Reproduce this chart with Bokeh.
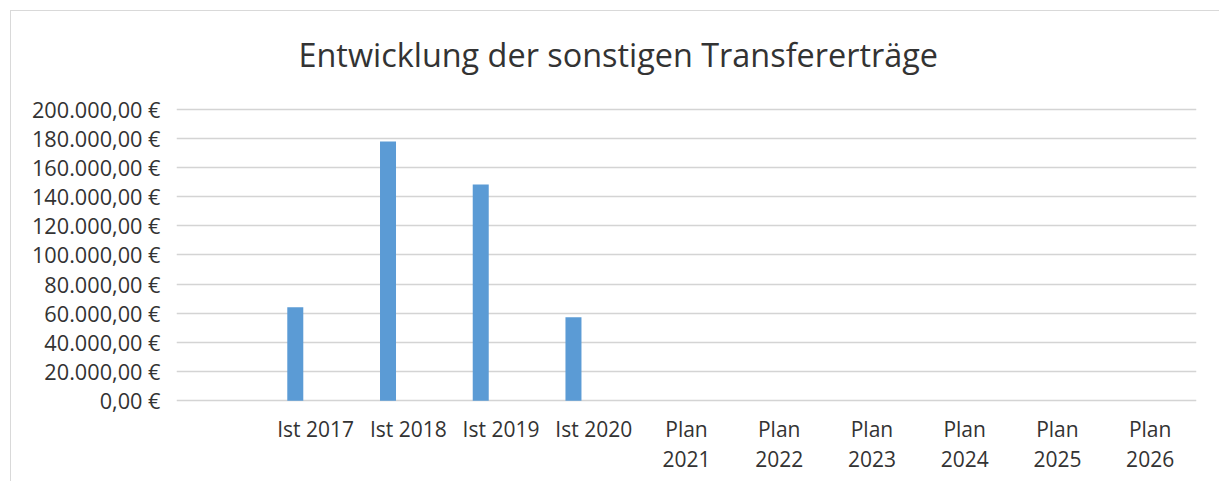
from bokeh.plotting import figure
from bokeh.models import ColumnDataSource, FactorRange, FixedTicker, Title
from bokeh.core.properties import value
from bokeh.transform import dodge
from bokeh.embed import file_html
from bokeh.resources import INLINE

# ---- data ----
title_text = "Entwicklung der sonstigen Transfererträge"
categories = ["", "Ist 2017", "Ist 2018", "Ist 2019", "Ist 2020",
              "Plan 2021", "Plan 2022", "Plan 2023", "Plan 2024", "Plan 2025", "Plan 2026"]
values = [0, 64200, 177900, 148400, 57300, 0, 0, 0, 0, 0, 0]
y_ticks = [0, 20000, 40000, 60000, 80000, 100000, 120000, 140000, 160000, 180000, 200000]
y_tick_labels = ["0,00 €", "20.000,00 €", "40.000,00 €", "60.000,00 €", "80.000,00 €",
                 "100.000,00 €", "120.000,00 €", "140.000,00 €", "160.000,00 €",
                 "180.000,00 €", "200.000,00 €"]

# category labels as Excel wraps them ("Plan 2021" on two lines)
x_labels = [c.replace("Plan ", "Plan\n") for c in categories]

FONT = "Open Sans"
TXT = "#333333"
GRID = "#d4d4d4"

# layout (page pixels)
CANVAS_TOP = 11.5
CANVAS_H = 471
FRAME_TOP = 97.0          # page y of frame top (below the title panel)
ZERO_Y = 400.7            # page y of value 0
TOP_Y = 108.7             # page y of 200000
units_per_px = (y_ticks[-1] - y_ticks[0]) / (ZERO_Y - TOP_Y)
y_end = y_ticks[-1] + (TOP_Y - FRAME_TOP) * units_per_px
y_start = -(CANVAS_TOP + CANVAS_H - ZERO_Y) * units_per_px

src = ColumnDataSource(dict(cat=categories, val=values, lab=x_labels))

p = figure(width=1209, height=CANVAS_H, output_backend="svg", toolbar_location=None,
           x_range=FactorRange(factors=categories, range_padding=0),
           y_range=(y_start, y_end),
           min_border_left=165, min_border_right=24, min_border_top=0, min_border_bottom=0)
p.styles = {"margin-left": "10px", "margin-top": "10px",
            "border-left": "1.5px solid #d9d9d9", "border-top": "1.5px solid #d9d9d9"}
p.title = Title(text=title_text, text_font=FONT, text_font_size="32.4px",
                text_font_style="normal", text_color=TXT, align="left",
                vertical_align="top", offset=122, standoff=40)

p.vbar(x=dodge("cat", -0.219, range=p.x_range), top="val", width=0.1726,
       source=src, fill_color="#5b9bd5", line_color=None)

p.text(x="cat", y=0, text="lab", source=src, text_font=value(FONT),
       text_font_size="21px", text_color=TXT, text_align="center",
       text_baseline="top", text_line_height=1.05, y_offset=14.5)

p.outline_line_color = None
p.background_fill_color = "white"
p.border_fill_color = "white"

p.xaxis.visible = False
p.xgrid.grid_line_color = None
p.ygrid.ticker = FixedTicker(ticks=y_ticks)
p.ygrid.grid_line_color = GRID
p.ygrid.grid_line_width = 1.5

p.yaxis.ticker = FixedTicker(ticks=y_ticks)
p.yaxis.major_label_overrides = {t: l for t, l in zip(y_ticks, y_tick_labels)}
p.yaxis.axis_line_color = None
p.yaxis.major_tick_line_color = None
p.yaxis.minor_tick_line_color = None
p.yaxis.major_tick_out = 0
p.yaxis.major_label_standoff = 16
p.yaxis.major_label_text_font = FONT
p.yaxis.major_label_text_font_size = "21.7px"
p.yaxis.major_label_text_color = TXT

open("out.html", "w").write(file_html(p, INLINE))
